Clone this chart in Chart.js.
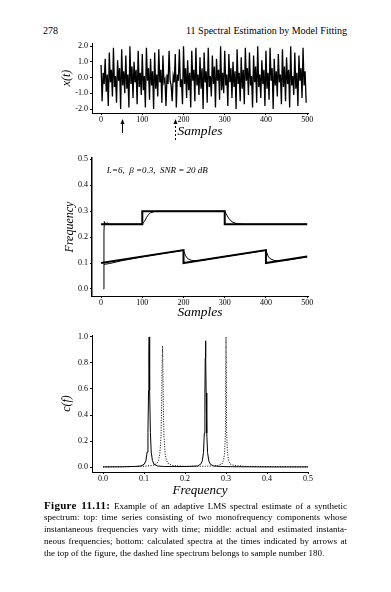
<!DOCTYPE html>
<html>
<head>
<meta charset="utf-8">
<script src="https://cdn.jsdelivr.net/npm/chart.js@4.4.1/dist/chart.umd.min.js"></script>
<style>
  html, body { margin:0; padding:0; background:#fff; }
  body { width:391px; height:592px; position:relative; overflow:hidden; font-family:"Liberation Serif","DejaVu Serif",serif; color:#000; }
  .box { position:absolute; left:0; width:391px; }
  .hdr { position:absolute; top:25px; font-size:10px; line-height:12px; }
  #cap { position:absolute; left:44px; top:499px; width:303px; font-size:9px; line-height:12px; }
  #cap .l { white-space:nowrap; text-align:justify; text-align-last:justify; height:12px; }
  #cap .l.last { text-align-last:left; }
  #cap b { font-size:11px; letter-spacing:0.3px; }
</style>
</head>
<body>
<div class="hdr" style="left:43px;">278</div>
<div class="hdr" style="right:44px;">11 Spectral Estimation by Model Fitting</div>

<div class="box" style="top:0px;height:150px;"><canvas id="c1"></canvas></div>
<div class="box" style="top:140px;height:185px;"><canvas id="c2"></canvas></div>
<div class="box" style="top:325px;height:174px;"><canvas id="c3"></canvas></div>

<div id="cap">
  <div class="l"><b>Figure 11.11:</b> Example of an adaptive LMS spectral estimate of a synthetic</div>
  <div class="l">spectrum: top: time series consisting of two monofrequency components whose</div>
  <div class="l">instantaneous frequencies vary with time; middle: actual and estimated instanta-</div>
  <div class="l">neous frequencies; bottom: calculated spectra at the times indicated by arrows at</div>
  <div class="l last">the top of the figure, the dashed line spectrum belongs to sample number 180.</div>
</div>

<script>
// ---------- DATA ----------
// Top: time series x(t), values read every tsStep samples
const tsStep = 2.5;
const tsValues = [
  0.8,-1.5,0.3,-0.4,1.2,-0.9,0.2,-1.8,1.6,-0.3,
  0.5,-1.2,1.9,-0.6,0.1,-1.6,1.1,-0.2,0.6,-2.0,
  1.8,-0.5,0.4,-1.0,1.4,-0.7,0.2,-1.9,2.0,-0.4,
  0.7,-1.3,1.0,-0.3,0.5,-1.7,1.7,-0.6,0.3,-1.1,
  1.5,-0.8,0.1,-1.9,1.9,-0.2,0.6,-1.4,1.2,-0.5,
  0.4,-2.0,1.6,-0.7,0.2,-1.2,1.8,-0.3,0.5,-1.6,
  1.4,-0.3,-0.1,-1.8,0.2,-0.4,1.7,-0.2,-0.5,-1.5,
  0.1,-0.3,1.5,-1.9,0.2,-0.2,1.8,-0.6,-0.1,-1.7,
  2.0,-0.4,0.6,-1.3,1.1,-0.8,0.3,-1.9,1.7,-0.2,
  0.5,-1.5,1.9,-0.5,0.2,-1.1,1.3,-0.7,0.6,-2.0,
  1.6,-0.3,0.4,-1.6,1.9,-0.6,0.1,-1.2,1.4,-0.4,
  0.7,-1.9,1.2,-0.2,0.5,-1.4,2.0,-0.8,0.3,-1.0,
  1.7,-0.5,0.2,-1.8,1.5,-0.3,0.6,-1.3,1.0,-0.6,
  0.4,-2.0,1.8,-0.4,0.3,-1.5,1.3,-0.7,0.5,-1.7,
  1.9,-0.2,0.6,-1.1,1.6,-0.5,0.1,-1.9,1.4,-0.3,
  0.7,-1.6,2.0,-0.6,0.2,-1.3,1.1,-0.4,0.5,-1.8,
  1.7,-0.7,0.3,-1.4,1.9,-0.2,0.6,-2.0,1.2,-0.5,
  0.4,-1.2,1.5,-0.3,0.2,-1.7,1.8,-0.6,0.7,-1.5,
  1.3,-0.4,0.5,-1.9,2.0,-0.5,0.1,-1.1,1.6,-0.7,
  0.3,-1.8,1.4,-0.2,0.6,-1.3,1.9,-0.5,0.4,-1.6
];
const arrowSamples = [50, 180];          // solid, dashed
const tsXTicks = [0, 100, 200, 300, 400, 500];
const tsXTickLabels = ['0', '100', '200', '300', '400', '500'];
const tsYTicks = [-2, -1, 0, 1, 2];
const tsYTickLabels = ['-2.0', '-1.0', '0.0', '1.0', '2.0'];

// Middle: actual (thick) and estimated (thin) instantaneous frequencies
const trueHighT = [0, 100, 100, 300, 300, 500];
const trueHighF = [0.25, 0.25, 0.30, 0.30, 0.25, 0.25];
const trueLowT  = [0, 200, 200, 400, 400, 500];
const trueLowF  = [0.10, 0.15, 0.10, 0.15, 0.10, 0.125];
const estHighT = [6, 7, 8, 10, 15, 20, 60, 100, 105, 110, 115, 120, 130, 140, 200, 300, 305, 310, 315, 320, 330, 345, 500];
const estHighF = [0.0, 0.22, 0.26, 0.25, 0.255, 0.25, 0.25, 0.25, 0.26, 0.275, 0.287, 0.294, 0.299, 0.30, 0.30, 0.30, 0.285, 0.272, 0.263, 0.257, 0.252, 0.25, 0.25];
const estLowT = [7, 20, 50, 100, 150, 200, 205, 210, 220, 230, 250, 300, 350, 400, 405, 410, 420, 430, 450, 500];
const estLowF = [0.095, 0.098, 0.109, 0.124, 0.137, 0.149, 0.128, 0.117, 0.110, 0.108, 0.112, 0.125, 0.137, 0.149, 0.127, 0.117, 0.110, 0.108, 0.111, 0.124];
const midYTicks = [0, 0.1, 0.2, 0.3, 0.4, 0.5];
const midYTickLabels = ['0.0', '0.1', '0.2', '0.3', '0.4', '0.5'];
const midNote = 'L=6,  \u03B2 =0.3,  SNR = 20 dB';

// Bottom: spectra c(f); solid = sample 50, dashed = sample 180
const specSolidF = [0, 0.05, 0.08, 0.0925, 0.1005, 0.1045, 0.1075, 0.1095, 0.111, 0.1118, 0.1125, 0.1132, 0.114, 0.1155, 0.1175, 0.1205, 0.1245, 0.1325, 0.15, 0.18, 0.21, 0.23, 0.238, 0.242, 0.245, 0.247, 0.2485, 0.2493, 0.25, 0.2507, 0.2515, 0.253, 0.255, 0.258, 0.262, 0.27, 0.30, 0.40, 0.50];
const specSolidC = [0.001, 0.002, 0.005, 0.008, 0.022, 0.048, 0.115, 0.265, 0.59, 0.87, 1.0, 0.87, 0.59, 0.265, 0.115, 0.048, 0.022, 0.008, 0.004, 0.004, 0.005, 0.008, 0.021, 0.047, 0.11, 0.26, 0.57, 0.84, 0.97, 0.84, 0.57, 0.26, 0.11, 0.047, 0.021, 0.008, 0.003, 0.001, 0.001];
const specDashF = [0, 0.05, 0.10, 0.12, 0.13, 0.135, 0.1385, 0.1415, 0.143, 0.144, 0.145, 0.146, 0.147, 0.1485, 0.1515, 0.155, 0.16, 0.17, 0.20, 0.25, 0.28, 0.29, 0.294, 0.2965, 0.2985, 0.299, 0.2995, 0.30, 0.3005, 0.301, 0.3015, 0.3035, 0.306, 0.31, 0.32, 0.35, 0.50];
const specDashC = [0.002, 0.003, 0.006, 0.012, 0.024, 0.047, 0.10, 0.24, 0.50, 0.78, 0.93, 0.78, 0.50, 0.24, 0.10, 0.047, 0.024, 0.012, 0.005, 0.006, 0.012, 0.024, 0.05, 0.11, 0.26, 0.45, 0.75, 1.0, 0.75, 0.45, 0.26, 0.11, 0.05, 0.024, 0.012, 0.005, 0.002];
const specXTicks = [0, 0.1, 0.2, 0.3, 0.4, 0.5];
const specXTickLabels = ['0.0', '0.1', '0.2', '0.3', '0.4', '0.5'];
const specYTicks = [0, 0.2, 0.4, 0.6, 0.8, 1.0];
const specYTickLabels = ['0.0', '0.2', '0.4', '0.6', '0.8', '1.0'];

// ---------- HELPERS ----------
const SERIF = '"Liberation Serif","DejaVu Serif",serif';
const pts = (xs, ys) => xs.map((x, i) => ({ x: x, y: ys[i] }));

function scaleOpts(opts) {
  const horiz = opts.axis === 'x';
  return {
    type: 'linear',
    min: opts.min, max: opts.max,
    afterBuildTicks: s => { s.ticks = opts.ticks.map(v => ({ value: v })); },
    afterFit: s => { if (horiz) s.height = opts.size; else s.width = opts.size; },
    border: { display: true, color: '#000', width: opts.borderWidth || 1 },
    grid: { drawOnChartArea: false, drawTicks: true, tickLength: 2, color: '#000', lineWidth: 1 },
    ticks: {
      color: '#000', padding: horiz ? 0 : 2, maxRotation: 0, autoSkip: false,
      font: { family: SERIF, size: 8 },
      callback: (v, i) => opts.labels[i]
    },
    title: {
      display: true, text: opts.title, color: '#000',
      font: { family: SERIF, size: opts.titleSize, style: 'italic' },
      padding: opts.titlePad
    }
  };
}

function baseOptions(pad, xs, ys) {
  return {
    responsive: true, maintainAspectRatio: false, animation: false, devicePixelRatio: 1,
    layout: { padding: pad },
    plugins: { legend: { display: false }, tooltip: { enabled: false } },
    elements: { point: { radius: 0 }, line: { tension: 0 } },
    scales: { x: xs, y: ys }
  };
}

// arrows under top chart
const arrowPlugin = {
  id: 'arrows',
  afterDraw(chart) {
    const ctx = chart.ctx, xs = chart.scales.x, b = chart.chartArea.bottom;
    arrowSamples.forEach((s, k) => {
      const x = Math.round(xs.getPixelForValue(s)) + 0.5;
      const top = b + 6, bot = k === 0 ? b + 20 : b + 27;
      ctx.save();
      ctx.strokeStyle = '#000'; ctx.fillStyle = '#000'; ctx.lineWidth = 1;
      ctx.setLineDash(k === 0 ? [] : [2, 2]);
      ctx.beginPath(); ctx.moveTo(x, top + 3); ctx.lineTo(x, bot); ctx.stroke();
      ctx.setLineDash([]);
      ctx.beginPath(); ctx.moveTo(x, top); ctx.lineTo(x - 2, top + 5); ctx.lineTo(x + 2, top + 5); ctx.closePath(); ctx.fill();
      ctx.restore();
    });
  }
};

const notePlugin = {
  id: 'note',
  afterDraw(chart) {
    const ctx = chart.ctx;
    const x = chart.scales.x.getPixelForValue(14), y = chart.scales.y.getPixelForValue(0.458);
    ctx.save();
    ctx.fillStyle = '#000';
    ctx.font = 'italic 9px ' + SERIF;
    ctx.textBaseline = 'middle';
    ctx.fillText(midNote, x, y);
    ctx.restore();
  }
};

// ---------- CHART 1 ----------
new Chart(document.getElementById('c1'), {
  type: 'line',
  data: { datasets: [{
    data: tsValues.map((v, i) => ({ x: i * tsStep, y: v })),
    borderColor: '#000', borderWidth: 1.3
  }]},
  options: baseOptions({ left: 58, top: 43, right: 83, bottom: 0 },
    scaleOpts({ axis: 'x', min: -22, max: 502, ticks: tsXTicks, labels: tsXTickLabels, size: 37,
      title: 'Samples', titleSize: 13.5, titlePad: { top: 0, bottom: 10 } }),
    scaleOpts({ axis: 'y', min: -2.25, max: 2.2, ticks: tsYTicks, labels: tsYTickLabels, size: 34,
      title: 'x(t)', titleSize: 12, titlePad: { top: 2, bottom: 0 } })),
  plugins: [arrowPlugin]
});

// ---------- CHART 2 ----------
new Chart(document.getElementById('c2'), {
  type: 'line',
  data: { datasets: [
    { data: pts(trueHighT, trueHighF), borderColor: '#000', borderWidth: 2 },
    { data: pts(trueLowT, trueLowF), borderColor: '#000', borderWidth: 2 },
    { data: pts(estHighT, estHighF), borderColor: '#000', borderWidth: 1 },
    { data: pts(estLowT, estLowF), borderColor: '#000', borderWidth: 1 }
  ]},
  options: baseOptions({ left: 58, top: 18, right: 83, bottom: 0 },
    scaleOpts({ axis: 'x', min: -22, max: 502, ticks: tsXTicks, labels: tsXTickLabels, size: 29,
      title: 'Samples', titleSize: 13.5, titlePad: { top: 0, bottom: 4 } }),
    scaleOpts({ axis: 'y', min: -0.027, max: 0.505, ticks: midYTicks, labels: midYTickLabels, size: 34,
      title: 'Frequency', titleSize: 12, titlePad: { top: 5, bottom: 0 }, borderWidth: 1.5 })),
  plugins: [notePlugin]
});

// ---------- CHART 3 ----------
new Chart(document.getElementById('c3'), {
  type: 'line',
  data: { datasets: [
    { data: pts(specDashF, specDashC), borderColor: '#000', borderWidth: 1, borderDash: [1, 1.5] },
    { data: pts(specSolidF, specSolidC), borderColor: '#000', borderWidth: 1 }
  ]},
  options: baseOptions({ left: 58, top: 10, right: 83, bottom: 0 },
    scaleOpts({ axis: 'x', min: -0.027, max: 0.5, ticks: specXTicks, labels: specXTickLabels, size: 27,
      title: 'Frequency', titleSize: 13, titlePad: { top: 0, bottom: 1 } }),
    scaleOpts({ axis: 'y', min: -0.038, max: 1.015, ticks: specYTicks, labels: specYTickLabels, size: 34,
      title: 'c(f)', titleSize: 12, titlePad: { top: 2, bottom: 0 } }))
});
</script>
</body>
</html>
